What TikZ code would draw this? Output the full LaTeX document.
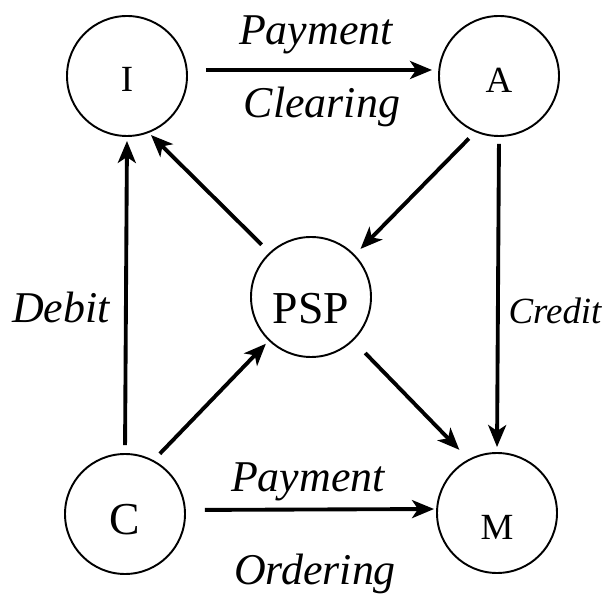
\documentclass[tikz,border=0pt]{standalone}
\usepackage{fontspec}
\setmainfont{Liberation Serif}
\newfontfamily\diagfont{Liberation Serif}
\usepackage{tikz}
\usetikzlibrary{arrows.meta}

\begin{document}
\begin{tikzpicture}[
    agent/.style={draw, circle, line width=1.1pt, minimum size=2.4cm, inner sep=0pt, text depth=0pt},
    flow/.style={-{Stealth[length=0.44cm, width=0.36cm, inset=0.12cm]}, line width=2.2pt},
    lbl/.style={font=\diagfont\fontsize{25}{30}\selectfont\itshape, anchor=base}
  ]
        \clip (0,0) rectangle (12.12,11.86);
        \useasboundingbox (0,0) rectangle (12.12,11.86);
        % Agentes
        \node[agent, font=\diagfont\fontsize{21}{25}\selectfont, text height=0.62cm] (I) at (2.54,10.34) {I};
        \node[agent, font=\diagfont\fontsize{21}{25}\selectfont, text height=0.65cm] (A) at (9.98,10.34) {A};
        \node[agent, font=\diagfont\fontsize{26}{31}\selectfont, text height=1.05cm] (PSP) at (6.22,5.92) {PSP};
        \node[agent, font=\diagfont\fontsize{26}{31}\selectfont, text height=0.81cm] (C) at (2.50,1.58) {C};
        \node[agent, font=\diagfont\fontsize{21}{25}\selectfont, text height=1.05cm] (M) at (9.94,1.60) {M};
        % Fluxos
        \draw[flow, shorten <=0.36cm, shorten >=0.12cm] ([yshift=0.12cm]I.east) -- ([yshift=0.12cm]A.west);
        \draw[flow, shorten <=0.38cm, shorten >=0.04cm] ([yshift=0.08cm]C.east) -- ([yshift=0.08cm]M.west);
        \draw[flow, shorten <=0.16cm, shorten >=0.08cm] (C.north) -- (I.south);
        \draw[flow, shorten <=0.14cm, shorten >=0.10cm] (A.south) -- (M.north);
        \draw[flow, shorten <=0.18cm, shorten >=0.08cm] (C.62) -- (PSP.226);
        \draw[flow, shorten <=0.22cm, shorten >=0.06cm] (PSP.133) -- (I.291);
        \draw[flow, shorten <=0.18cm, shorten >=0.16cm] (A.247) -- (PSP.44);
        \draw[flow, shorten <=0.34cm, shorten >=0.26cm] (PSP.314) -- (M.118);
        % Legendas
        \node[lbl] (payclr) at (6.32,10.96) {Payment};
        \node[lbl] (clr) at (6.44,9.50) {Clearing};
        \node[lbl] (payord) at (6.16,2.04) {Payment};
        \node[lbl] (ord) at (6.30,0.16) {Ordering};
        \node[lbl] (deb) at (1.22,5.40) {Debit};
        \node[lbl, font=\diagfont\fontsize{21}{25}\selectfont\itshape] (cred) at (11.10,5.38) {Credit};
      \end{tikzpicture}
\end{document}
